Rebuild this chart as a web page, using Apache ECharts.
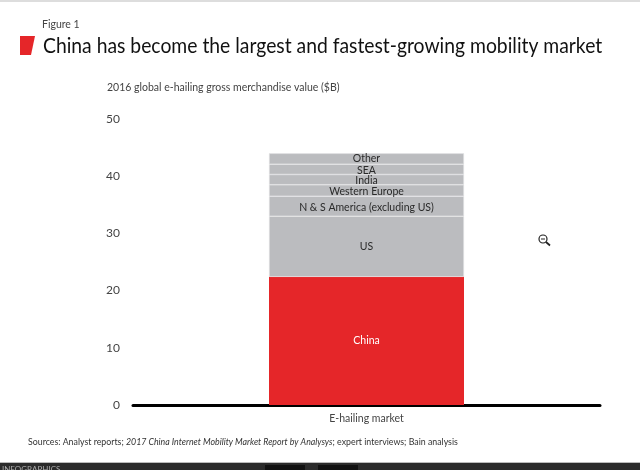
<!DOCTYPE html>
<html><head><meta charset="utf-8">
<style>html,body{margin:0;padding:0;background:#fff}#c{width:640px;height:470px}</style>
<script src="https://cdn.jsdelivr.net/npm/echarts@6/dist/echarts.min.js"></script>
</head><body><div id="c"></div>
<script>
var categories = ["E-hailing market"];
var segmentNames = ["China","US","N & S America (excluding US)","Western Europe","India","SEA","Other"];
var segmentValues = [22.4,10.6,3.5,2,1.8,1.8,1.9];
var segmentColors = ["#e52629","#bbbcbf","#bbbcbf","#bbbcbf","#bbbcbf","#bbbcbf","#bbbcbf"];
var labelColors = ["#ffffff","#2a2a2a","#2a2a2a","#2a2a2a","#2a2a2a","#2a2a2a","#2a2a2a"];
var yTicks = [0,10,20,30,40,50];
var font = "Lato";

var chart = echarts.init(document.getElementById('c'), null, {renderer:'canvas'});
chart.setOption({
  animation:false,
  backgroundColor:'#fff',
  textStyle:{fontFamily:font},
  grid:{left:133,right:40,top:119,height:286,containLabel:false},
  xAxis:{type:'category',data:categories,
    axisLine:{lineStyle:{color:'#000',width:3}},axisTick:{show:false},
    axisLabel:{color:'#444',fontSize:10.5,margin:8,fontFamily:font}},
  yAxis:{type:'value',min:yTicks[0],max:yTicks[yTicks.length-1],interval:10,
    axisLine:{show:false},axisTick:{show:false},splitLine:{show:false},
    axisLabel:{color:'#444',fontSize:12,margin:13,fontFamily:font}},
  series:segmentNames.map(function(n,i){return {
    name:n,type:'bar',stack:'t',barWidth:195,
    data:[segmentValues[i]],
    itemStyle:{color:segmentColors[i],borderColor:'#e4e4e6',borderWidth:i===0?0:0.6},
    label:{show:true,position:'inside',formatter:n,color:labelColors[i],fontSize:10.5,fontFamily:font,lineHeight:11,offset:[0,i>=2&&i<6?1:0]}
  };}),
  graphic:[
    {type:'rect',shape:{x:0,y:0,width:640,height:2},style:{fill:'#dddddd'},silent:true},
    {type:'rect',shape:{x:0,y:463,width:640,height:7},style:{fill:'#2b2b2b'},silent:true},
    {type:'rect',shape:{x:0,y:462,width:640,height:1},style:{fill:'#bbbbbb'},silent:true},
    {type:'rect',shape:{x:265,y:465,width:40,height:5},style:{fill:'#111'},silent:true},
    {type:'rect',shape:{x:318,y:465,width:40,height:5},style:{fill:'#111'},silent:true},
    {type:'text',style:{x:2,y:465,text:'INFOGRAPHICS',fill:'#aaa',font:'8px '+font},silent:true},
    {type:'polygon',shape:{points:[[20,36],[35,36],[31,55],[20,55]]},style:{fill:'#e52629'},silent:true},
    {type:'text',style:{x:42,y:19,text:'Figure 1',fill:'#444',font:'10.5px '+font},silent:true},
    {type:'text',x:43,y:36,scaleX:0.92,style:{x:0,y:0,text:'China has become the largest and fastest-growing mobility market',fill:'#111',font:'21px '+font},silent:true},
    {type:'text',style:{x:107,y:82,text:'2016 global e-hailing gross merchandise value ($B)',fill:'#444',font:'10.5px '+font},silent:true},
    {type:'text',style:{x:28,y:438,
      text:'{a|Sources: Analyst reports; }{b|2017 China Internet Mobility Market Report by Analysys}{a|; expert interviews; Bain analysis}',
      rich:{a:{fill:'#333',font:'8.8px '+font},b:{fill:'#333',font:'italic 8.8px '+font}}},silent:true},
    {type:'circle',shape:{cx:543,cy:239,r:4},style:{fill:'#fff',stroke:'#222',lineWidth:1.2},silent:true},
    {type:'line',shape:{x1:541,y1:239,x2:545,y2:239},style:{stroke:'#222',lineWidth:1},silent:true},
    {type:'line',shape:{x1:546,y1:242,x2:550,y2:245.5},style:{stroke:'#222',lineWidth:1.8},silent:true}
  ]
});
</script></body></html>
